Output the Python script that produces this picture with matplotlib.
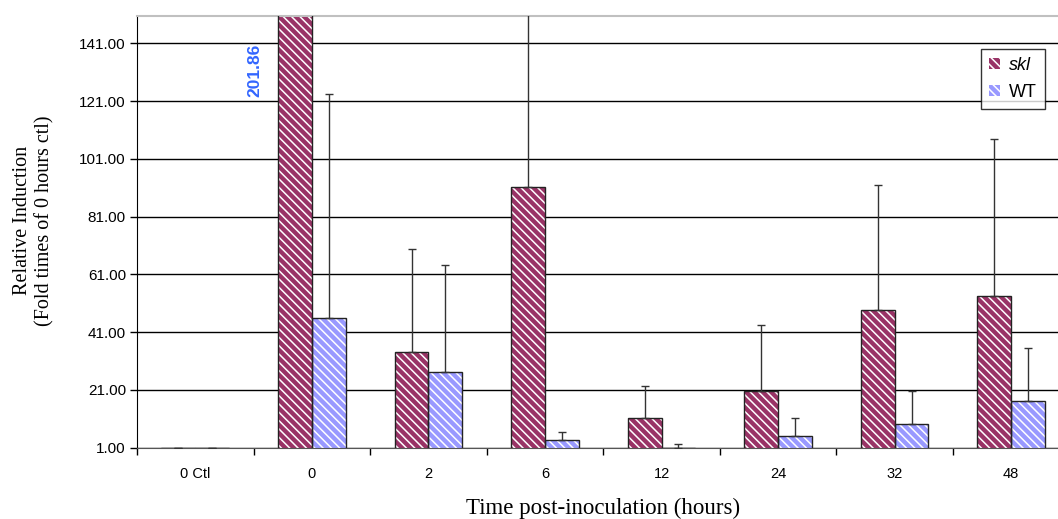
#!/usr/bin/env python3
"""
Relative induction bar chart (skl vs WT), upper error bars only
"""
import numpy as np
import matplotlib
matplotlib.use('Agg')
import matplotlib.pyplot as plt
from matplotlib.patches import Patch

# data
time_labels = ['0 Ctl', '0', '2', '6', '12', '24', '32', '48']
skl_values = [1.0, 201.86, 34.0, 91.2, 11.4, 20.5, 48.7, 53.6]
skl_errors = [0.0, 60.0, 35.8, 95.0, 10.9, 23.0, 43.2, 54.3]
wt_values = [1.0, 46.0, 27.3, 3.7, 1.0, 5.2, 9.2, 17.2]
wt_errors = [0.0, 77.4, 36.9, 2.7, 1.2, 6.2, 11.4, 18.3]
y_ticks = [1, 21, 41, 61, 81, 101, 121, 141]

SKL_COLOR = '#993366'
WT_COLOR = '#9999ff'
LABEL_COLOR = '#3366ff'
HATCH = '\\' * 4

plt.rcParams['hatch.color'] = 'white'
plt.rcParams['hatch.linewidth'] = 1.1

fig = plt.figure(figsize=(10.58, 5.19), dpi=100)
# the plot area runs past the right edge of the picture
ax = fig.add_axes([137 / 1058, 71.3 / 519, 932.5 / 1058, 431.4 / 519])

x = np.arange(len(time_labels))
w = 0.29

# bars start from 0 and get clipped at the 1.00 floor, like Excel
ax.bar(x - w / 2, skl_values, w, color=SKL_COLOR, hatch=HATCH, edgecolor='white',
       linewidth=0, zorder=2)
ax.bar(x + w / 2, wt_values, w, color=WT_COLOR, hatch=HATCH, edgecolor='white',
       linewidth=0, zorder=2)
ax.bar(x - w / 2, skl_values, w, facecolor='none', edgecolor='#222222',
       linewidth=1.0, zorder=3)
ax.bar(x + w / 2, wt_values, w, facecolor='none', edgecolor='#222222',
       linewidth=1.0, zorder=3)

# only upper error bars
ax.errorbar(x - w / 2, skl_values, yerr=[np.zeros(len(x)), skl_errors], fmt='none',
            ecolor='#333333', elinewidth=1.0, capsize=3.2, capthick=1.0, zorder=4)
ax.errorbar(x + w / 2, wt_values, yerr=[np.zeros(len(x)), wt_errors], fmt='none',
            ecolor='#333333', elinewidth=1.0, capsize=3.2, capthick=1.0, zorder=4)

ax.set_xlim(-0.5, len(x) - 0.5)
ax.set_ylim(1, 150.4)

# grid lines
for yt in y_ticks:
    ax.axhline(yt, color='black', linewidth=1.0, zorder=1)

ax.set_yticks(y_ticks)
ax.set_yticklabels([f'{v:.2f}' for v in y_ticks], fontsize=11, family='Liberation Sans')
ax.tick_params(axis='y', direction='out', length=5, width=1, pad=3)

ax.set_xticks(x)
ax.set_xticklabels(time_labels, fontsize=10.5, family='Liberation Sans')
ax.set_xticks(np.arange(len(x) + 1) - 0.5, minor=True)
ax.tick_params(axis='x', which='major', length=0, pad=14)
ax.tick_params(axis='x', which='minor', direction='out', length=5, width=1)

ax.spines['right'].set_visible(False)
ax.spines['top'].set_color('#c0c0c0')
ax.spines['top'].set_linewidth(1.5)
ax.spines['left'].set_color('black')
ax.spines['bottom'].set_color('#555555')

# off-scale value for the first skl bar
ax.text(0.51, 131.7, '201.86', rotation=90, ha='center', va='center',
        color=LABEL_COLOR, fontsize=12.5, fontweight='bold', family='Liberation Sans')

ax.set_xlabel('Time post-inoculation (hours)', fontsize=16.5, family='Liberation Serif',
              labelpad=12)
ax.set_ylabel('Relative Induction\n(Fold times of 0 hours ctl)', fontsize=14.5,
              family='Liberation Serif', linespacing=1.2)
ax.yaxis.set_label_coords(-0.089, 0.527)

handles = [Patch(facecolor=SKL_COLOR, hatch=HATCH, edgecolor='white', linewidth=0),
           Patch(facecolor=WT_COLOR, hatch=HATCH, edgecolor='white', linewidth=0)]
leg = fig.legend(handles, ['skl', 'WT'], loc='upper right',
                 bbox_to_anchor=(1045 / 1058, 1 - 49 / 519),
                 prop={'family': 'Liberation Sans', 'size': 13},
                 frameon=True, fancybox=False, handlelength=0.6, handleheight=0.6,
                 handletextpad=0.5, borderpad=0.45, labelspacing=0.55, borderaxespad=0)
leg.get_frame().set_edgecolor('black')
leg.get_frame().set_linewidth(1.0)
leg.get_texts()[0].set_style('italic')

fig.savefig('out.png', dpi=100)
